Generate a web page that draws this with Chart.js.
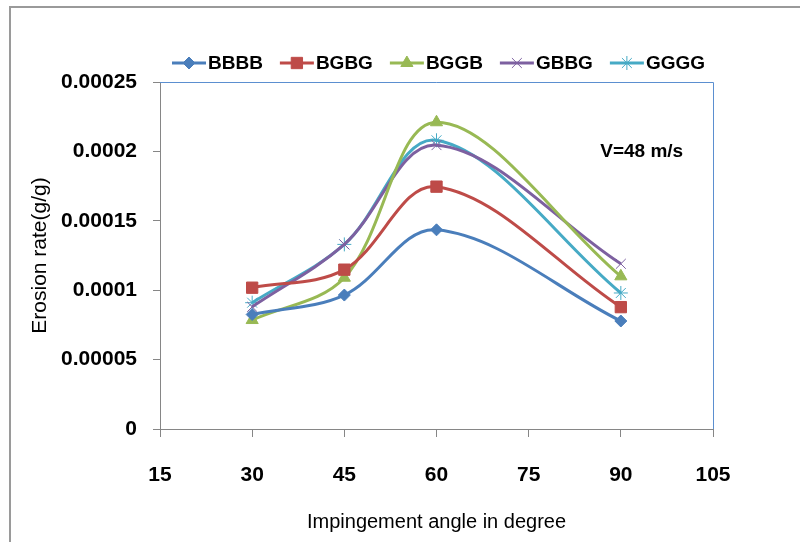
<!DOCTYPE html>
<html>
<head>
<meta charset="utf-8">
<script src="https://cdn.jsdelivr.net/npm/chart.js@4"></script>
<style>
  html, body { margin: 0; padding: 0; background: #fff; }
  #wrap { width: 800px; height: 542px; }
</style>
</head>
<body>
<div id="wrap"><canvas id="erosionChart" width="800" height="542"></canvas></div>
<script>
// impingement angles (x) and erosion rates (g/g) per stacking sequence
const angles = [30, 45, 60, 90];
const bbbb = [0.0000825, 0.0000965, 0.0001435, 0.0000778];
const bgbg = [0.0001018, 0.0001148, 0.0001746, 0.0000878];
const bggb = [0.0000785, 0.000109, 0.000221, 0.000110];
const gbbg = [0.000088, 0.000133, 0.0002045, 0.000119];
const gggg = [0.000091, 0.000133, 0.000208, 0.000098];

const seriesNames = ['BBBB', 'BGBG', 'BGGB', 'GBBG', 'GGGG'];
const seriesColors = ['#4A7EBB', '#BE4B48', '#98B954', '#7D60A0', '#46AAC5'];
const seriesMarkers = ['rectRot', 'rect', 'triangle', 'crossRot', 'star'];
const seriesRadius = [6, 8, 7, 7, 7];

const xTicks = [15, 30, 45, 60, 75, 90, 105];
const yTicks = [0, 0.00005, 0.0001, 0.00015, 0.0002, 0.00025];
const note = 'V=48 m/s';

const FONT = "'Liberation Sans', sans-serif";
const AXIS_GRAY = '#868686';

const allValues = [bbbb, bgbg, bggb, gbbg, gggg];

const datasets = allValues.map((vals, i) => ({
    label: seriesNames[i],
    data: angles.map((a, j) => ({ x: a, y: vals[j] })),
    borderColor: seriesColors[i],
    backgroundColor: seriesColors[i],
    borderWidth: 3,
    pointStyle: seriesMarkers[i],
    pointRadius: seriesRadius[i],
    pointBorderWidth: 1,
    tension: 0.35,
    fill: false
}));

// frame, plot border, legend with line + marker, and the velocity note
const decorations = {
    id: 'decorations',
    beforeDraw(chart) {
        const { ctx } = chart;
        ctx.save();
        ctx.strokeStyle = '#9a9a9a';
        ctx.lineWidth = 2;
        ctx.beginPath();
        ctx.moveTo(10, 542);
        ctx.lineTo(10, 7);
        ctx.lineTo(800, 7);
        ctx.stroke();
        ctx.restore();
    },
    afterDraw(chart) {
        const { ctx, chartArea: ca, scales } = chart;
        ctx.save();

        // blue top / right border of the plot area
        ctx.strokeStyle = '#5B8FD0';
        ctx.lineWidth = 1;
        ctx.beginPath();
        ctx.moveTo(ca.left, ca.top + 0.5);
        ctx.lineTo(ca.right + 0.5, ca.top + 0.5);
        ctx.lineTo(ca.right + 0.5, ca.bottom);
        ctx.stroke();

        // legend
        ctx.font = 'bold 19px ' + FONT;
        ctx.textBaseline = 'middle';
        ctx.textAlign = 'left';
        const lineLen = 34, gapText = 2, gapItem = 17;
        const widths = seriesNames.map(n => lineLen + gapText + ctx.measureText(n).width);
        const total = widths.reduce((s, w) => s + w, 0) + gapItem * (widths.length - 1);
        let x = (ca.left + ca.right) / 2 - total / 2 + 2;
        const ly = 63;
        seriesNames.forEach((name, i) => {
            ctx.strokeStyle = seriesColors[i];
            ctx.lineWidth = 3;
            ctx.beginPath();
            ctx.moveTo(x, ly);
            ctx.lineTo(x + lineLen, ly);
            ctx.stroke();
            ctx.fillStyle = seriesColors[i];
            ctx.lineWidth = 1;
            Chart.helpers.drawPoint(ctx, {
                pointStyle: seriesMarkers[i],
                radius: seriesRadius[i],
                rotation: 0,
                borderWidth: 1
            }, x + lineLen / 2, ly);
            ctx.fillStyle = '#000';
            ctx.fillText(name, x + lineLen + gapText, ly + 1);
            x += widths[i] + gapItem;
        });

        // velocity note
        ctx.font = 'bold 19px ' + FONT;
        ctx.textAlign = 'center';
        ctx.fillStyle = '#000';
        ctx.fillText(note, scales.x.getPixelForValue(93.4), scales.y.getPixelForValue(0.0002));
        ctx.restore();
    }
};

const ctx = document.getElementById('erosionChart').getContext('2d');

new Chart(ctx, {
    type: 'line',
    data: { datasets: datasets },
    options: {
        responsive: false,
        animation: false,
        layout: { padding: { left: 0, top: 82, right: 87, bottom: 0 } },
        plugins: {
            legend: { display: false },
            tooltip: { enabled: false }
        },
        scales: {
            x: {
                type: 'linear',
                min: xTicks[0],
                max: xTicks[xTicks.length - 1],
                afterBuildTicks: (scale) => { scale.ticks = xTicks.map(v => ({ value: v })); },
                afterFit: (scale) => { scale.height = 113; },
                grid: { drawOnChartArea: false, tickLength: 8, color: AXIS_GRAY, lineWidth: 1 },
                border: { color: AXIS_GRAY, width: 1 },
                ticks: {
                    padding: 26,
                    color: '#000',
                    font: { family: FONT, size: 21, weight: 'bold' },
                    maxRotation: 0,
                    autoSkip: false
                },
                title: {
                    display: true,
                    text: 'Impingement angle in degree',
                    color: '#000',
                    font: { family: FONT, size: 20 },
                    padding: { top: 0, bottom: 8 }
                }
            },
            y: {
                min: yTicks[0],
                max: yTicks[yTicks.length - 1],
                afterBuildTicks: (scale) => { scale.ticks = yTicks.map(v => ({ value: v })); },
                afterFit: (scale) => { scale.width = 160; },
                grid: { drawOnChartArea: false, tickLength: 7, color: AXIS_GRAY, lineWidth: 1 },
                border: { color: AXIS_GRAY, width: 1 },
                ticks: {
                    padding: 16,
                    color: '#000',
                    font: { family: FONT, size: 21, weight: 'bold' },
                    autoSkip: false,
                    callback: (v) => String(parseFloat(v.toFixed(6)))
                },
                title: {
                    display: true,
                    text: 'Erosion rate(g/g)',
                    color: '#000',
                    font: { family: FONT, size: 21 },
                    padding: { top: 28, bottom: 0 }
                }
            }
        }
    },
    plugins: [decorations]
});
</script>
</body>
</html>
